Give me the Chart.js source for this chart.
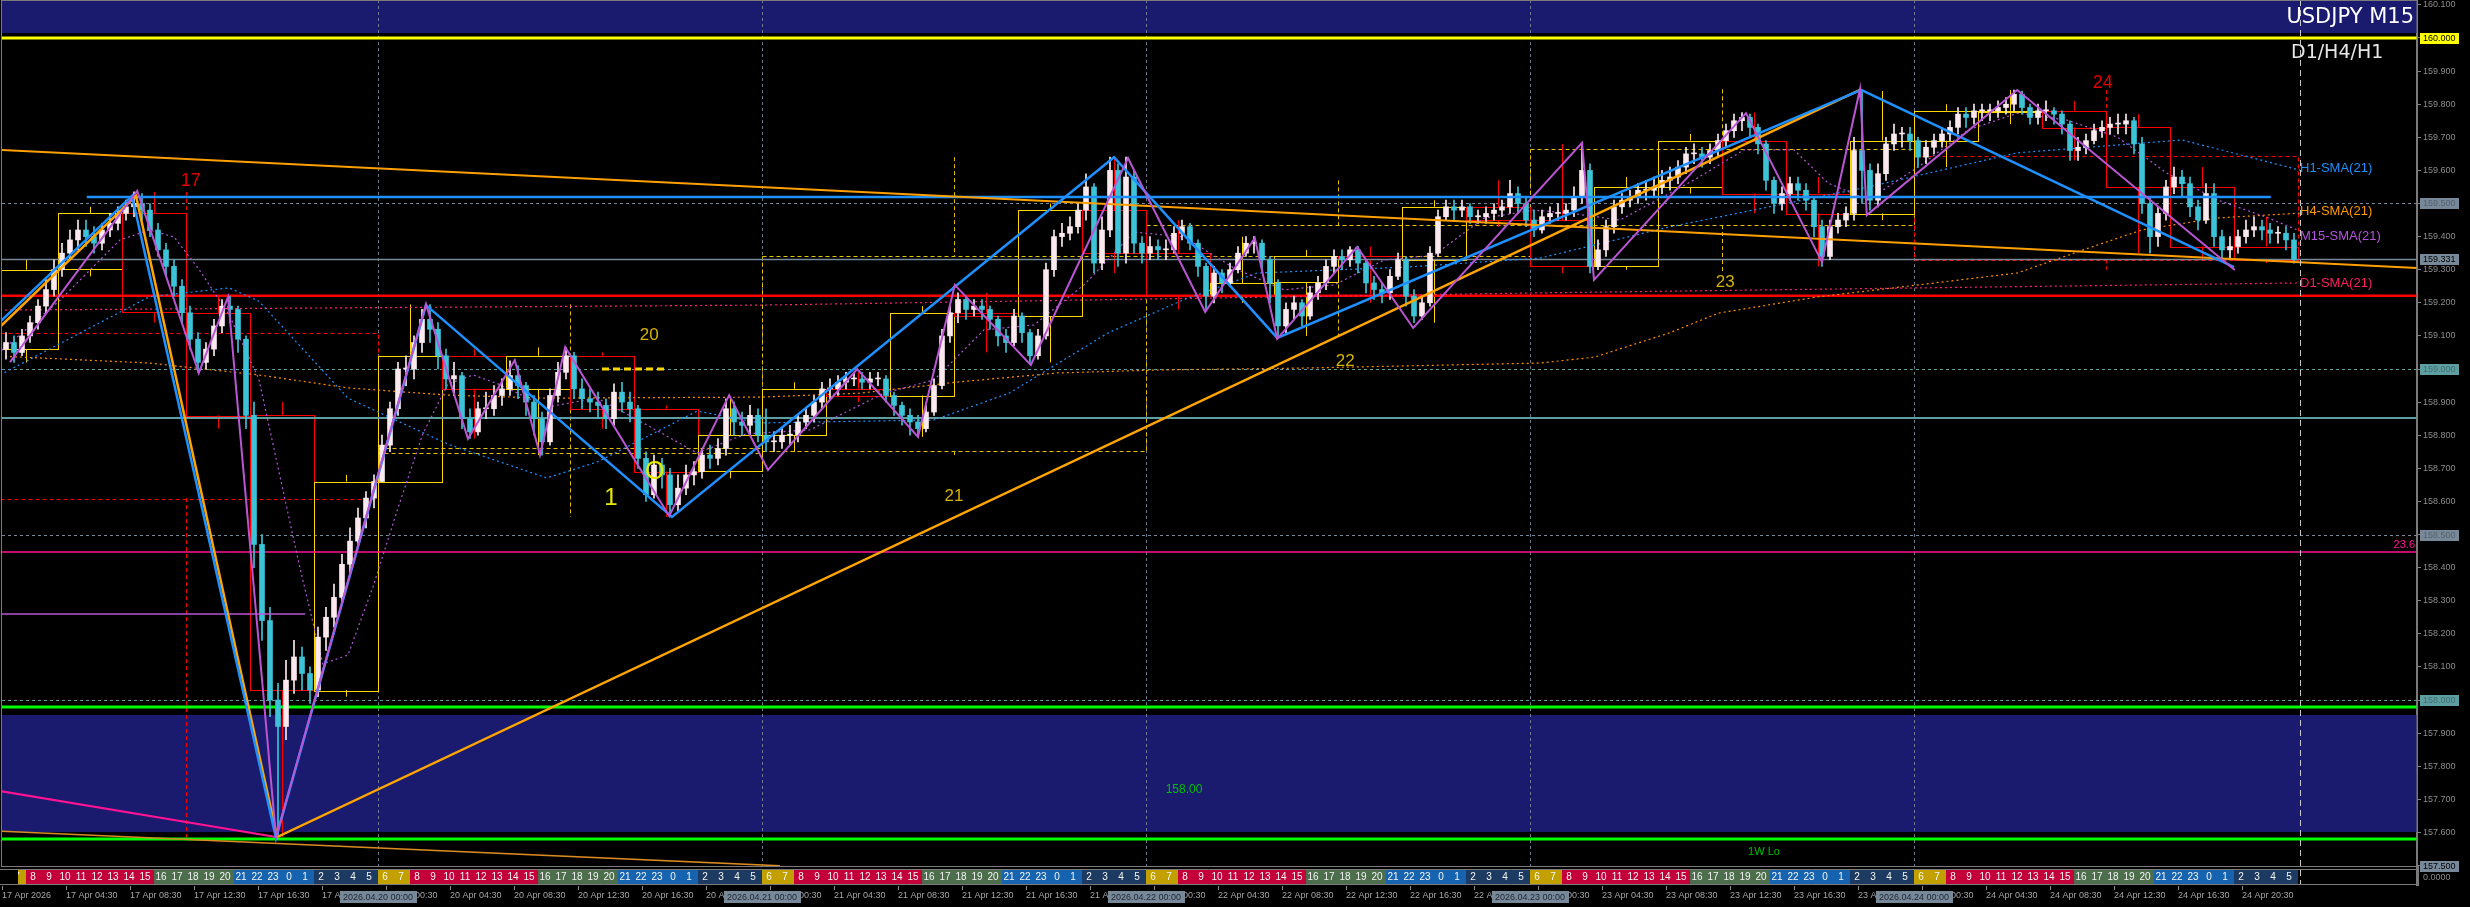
<!DOCTYPE html>
<html>
<head>
<title>USDJPY M15</title>
<script src="https://cdn.jsdelivr.net/npm/chart.js"></script>
<style>
  html, body { margin: 0; padding: 0; background: #000; }
  canvas { display: block; }
</style>
</head>
<body>
<canvas id="priceChart" width="2470" height="907"></canvas>
<script>
// ---- x axis is counted in 30 minute slots, slot 0 = 17 Apr 00:30 (weekend skipped) ----
const dayNames  = ['17 Apr', '20 Apr', '21 Apr', '22 Apr', '23 Apr', '24 Apr'];
const dayStamps = ['2026.04.17', '2026.04.20', '2026.04.21', '2026.04.22', '2026.04.23', '2026.04.24'];
const dayStart  = [-1, 47, 95, 143, 191, 239];
const tickTimes = ['00:30', '04:30', '08:30', '12:30', '16:30', '20:30'];
const priceTicks = [157.5, 157.6, 157.7, 157.8, 157.9, 158.0, 158.1, 158.2, 158.3, 158.4, 158.5, 158.6, 158.7,
                    158.8, 158.9, 159.0, 159.1, 159.2, 159.3, 159.4, 159.5, 159.6, 159.7, 159.8, 159.9, 160.0, 160.1];

// 30 minute bars: [high, low, close], open = previous close
const firstOpen = 159.06;
const bars17 = [
  [159.11,159.03,159.08],[159.10,159.02,159.05],[159.12,159.04,159.10],[159.16,159.08,159.14],[159.21,159.12,159.19],
  [159.27,159.17,159.24],[159.33,159.22,159.30],[159.38,159.28,159.35],[159.42,159.33,159.39],[159.45,159.36,159.42],
  [159.45,159.37,159.40],[159.43,159.35,159.38],[159.44,159.36,159.42],[159.47,159.40,159.44],[159.49,159.42,159.47],
  [159.51,159.45,159.49],[159.535,159.46,159.50],[159.53,159.45,159.48],[159.50,159.40,159.42],[159.44,159.34,159.36],
  [159.38,159.28,159.31],[159.33,159.22,159.25],[159.27,159.14,159.17],[159.19,159.06,159.09],[159.11,158.99,159.02],
  [159.08,159.00,159.06],[159.15,159.04,159.13],[159.21,159.11,159.19],[159.22,159.14,159.18],[159.19,159.05,159.09],
  [159.10,158.82,158.86],[158.90,158.40,158.47],[158.50,158.18,158.24],[158.28,157.95,158.00],[158.05,157.585,157.92],
  [158.12,157.88,158.06],[158.18,158.02,158.13],[158.16,158.03,158.08],[158.10,157.99,158.03],[158.22,158.01,158.19],
  [158.28,158.15,158.25],[158.35,158.22,158.31],[158.44,158.29,158.41],[158.52,158.38,158.48],[158.58,158.46,158.55],
  [158.63,158.52,158.61],[158.68,158.58,158.66]
];
const bars20 = [
  [158.80,158.66,158.77],[158.90,158.75,158.88],[159.02,158.86,159.00],[159.04,158.95,159.00],[159.10,158.97,159.08],
  [159.18,159.05,159.15],[159.195,159.08,159.12],[159.14,159.00,159.04],[159.06,158.94,158.97],[159.02,158.92,158.98],
  [158.99,158.82,158.85],[158.88,158.79,158.81],[158.90,158.80,158.88],[158.93,158.85,158.88],[158.95,158.86,158.92],
  [158.97,158.89,158.94],[159.025,158.92,158.98],[159.01,158.91,158.95],[158.96,158.86,158.90],[158.92,158.80,158.85],
  [158.87,158.74,158.78],[158.94,158.77,158.92],[159.02,158.90,158.99],[159.065,158.97,159.04],[159.05,158.91,158.94],
  [158.97,158.88,158.91],[158.94,158.87,158.90],[158.93,158.85,158.89],[158.91,158.82,158.85],[158.955,158.83,158.93],
  [158.96,158.87,158.90],[158.93,158.84,158.88],[158.89,158.70,158.73],[158.75,158.60,158.62],[158.74,158.61,158.71],
  [158.73,158.64,158.68],[158.70,158.553,158.59],[158.68,158.57,158.64],[158.71,158.62,158.68],[158.72,158.65,158.69],
  [158.76,158.67,158.74],[158.77,158.70,158.73],[158.79,158.71,158.76],[158.91,158.74,158.88],[158.90,158.80,158.84],
  [158.87,158.80,158.83],[158.89,158.80,158.86],[158.88,158.78,158.80]
];
const bars21 = [
  [158.88,158.75,158.78],[158.81,158.75,158.78],[158.82,158.76,158.80],[158.83,158.77,158.80],[158.86,158.78,158.84],
  [158.88,158.82,158.86],[158.92,158.84,158.90],[158.96,158.88,158.94],[158.97,158.91,158.94],[158.98,158.92,158.96],
  [158.99,158.94,158.97],[158.99,158.95,158.97],[158.99,158.94,158.96],[158.99,158.94,158.97],[158.99,158.95,158.97],
  [158.98,158.90,158.92],[158.93,158.86,158.89],[158.90,158.83,158.86],[158.88,158.80,158.84],[158.86,158.795,158.82],
  [158.89,158.81,158.87],[158.97,158.86,158.95],[159.12,158.94,159.10],[159.19,159.08,159.17],[159.23,159.14,159.21],
  [159.22,159.15,159.18],[159.21,159.16,159.19],[159.21,159.15,159.18],[159.19,159.12,159.15],[159.16,159.07,159.10],
  [159.12,159.05,159.08],[159.18,159.07,159.16],[159.17,159.08,159.11],[159.12,159.02,159.04],[159.12,159.03,159.10],
  [159.32,159.09,159.30],[159.42,159.28,159.40],[159.44,159.37,159.41],[159.46,159.39,159.43],[159.50,159.41,159.48],
  [159.59,159.45,159.55],[159.56,159.29,159.32],[159.46,159.30,159.42],[159.64,159.40,159.60],[159.62,159.31,159.35],
  [159.64,159.32,159.58],[159.60,159.35,159.38],[159.40,159.32,159.35]
];
const bars22 = [
  [159.40,159.33,159.37],[159.39,159.33,159.36],[159.39,159.33,159.36],[159.43,159.35,159.41],[159.45,159.39,159.43],
  [159.44,159.36,159.38],[159.39,159.28,159.31],[159.32,159.18,159.22],[159.31,159.20,159.29],[159.30,159.23,159.26],
  [159.32,159.25,159.30],[159.37,159.29,159.35],[159.40,159.34,159.38],[159.40,159.35,159.38],[159.39,159.30,159.33],
  [159.34,159.20,159.26],[159.27,159.10,159.13],[159.20,159.11,159.18],[159.22,159.15,159.20],[159.21,159.13,159.16],
  [159.25,159.15,159.23],[159.28,159.21,159.26],[159.33,159.24,159.31],[159.36,159.29,159.34],[159.36,159.30,159.33],
  [159.37,159.31,159.36],[159.37,159.29,159.32],[159.33,159.23,159.26],[159.28,159.21,159.24],[159.26,159.20,159.23],
  [159.30,159.21,159.28],[159.35,159.27,159.33],[159.34,159.19,159.22],[159.24,159.14,159.16],[159.22,159.15,159.20],
  [159.37,159.19,159.35],[159.48,159.34,159.46],[159.51,159.45,159.49],[159.51,159.45,159.48],[159.51,159.46,159.49],
  [159.50,159.44,159.46],[159.48,159.44,159.46],[159.49,159.44,159.47],[159.50,159.45,159.48],[159.51,159.46,159.49],
  [159.57,159.47,159.53],[159.55,159.47,159.50],[159.52,159.43,159.45]
];
const bars23 = [
  [159.48,159.40,159.42],[159.48,159.41,159.46],[159.49,159.44,159.47],[159.50,159.45,159.47],[159.50,159.45,159.48],
  [159.55,159.46,159.52],[159.68,159.50,159.60],[159.62,159.29,159.31],[159.39,159.30,159.36],[159.45,159.34,159.43],
  [159.51,159.41,159.49],[159.53,159.47,159.51],[159.54,159.49,159.52],[159.56,159.50,159.54],[159.57,159.51,159.54],
  [159.58,159.52,159.55],[159.60,159.53,159.57],[159.61,159.54,159.58],[159.63,159.56,159.61],[159.67,159.59,159.65],
  [159.68,159.62,159.65],[159.67,159.61,159.64],[159.68,159.62,159.66],[159.71,159.64,159.69],[159.74,159.67,159.72],
  [159.77,159.70,159.75],[159.775,159.72,159.76],[159.77,159.70,159.73],[159.74,159.65,159.68],[159.69,159.54,159.57],
  [159.58,159.47,159.50],[159.55,159.48,159.53],[159.58,159.51,159.56],[159.58,159.51,159.54],[159.56,159.48,159.51],
  [159.52,159.40,159.43],[159.45,159.31,159.34],[159.45,159.33,159.43],[159.47,159.41,159.45],[159.49,159.43,159.47],
  [159.70,159.45,159.66],[159.84,159.50,159.60],[159.62,159.48,159.51],[159.62,159.49,159.59],[159.70,159.57,159.68],
  [159.74,159.66,159.71],[159.73,159.67,159.71],[159.73,159.66,159.69]
];
const bars24 = [
  [159.70,159.61,159.64],[159.69,159.62,159.67],[159.71,159.65,159.69],[159.73,159.67,159.71],[159.75,159.69,159.73],
  [159.79,159.71,159.77],[159.79,159.73,159.76],[159.80,159.74,159.78],[159.80,159.75,159.78],[159.80,159.75,159.78],
  [159.81,159.76,159.79],[159.82,159.77,159.80],[159.843,159.78,159.83],[159.84,159.77,159.79],[159.80,159.74,159.76],
  [159.80,159.74,159.78],[159.81,159.75,159.78],[159.79,159.74,159.77],[159.78,159.71,159.74],[159.75,159.63,159.66],
  [159.70,159.63,159.67],[159.71,159.65,159.69],[159.74,159.68,159.72],[159.75,159.70,159.73],[159.76,159.71,159.74],
  [159.77,159.71,159.74],[159.77,159.71,159.75],[159.76,159.65,159.68],[159.70,159.47,159.50],[159.52,159.35,159.40],
  [159.49,159.37,159.47],[159.57,159.45,159.55],[159.61,159.53,159.58],[159.60,159.52,159.56],[159.58,159.46,159.49],
  [159.51,159.42,159.45],[159.56,159.44,159.53],[159.56,159.37,159.40],[159.42,159.33,159.36],[159.40,159.33,159.37],
  [159.42,159.35,159.40],[159.45,159.38,159.42],[159.46,159.40,159.43],[159.45,159.39,159.42],[159.44,159.38,159.41],
  [159.43,159.38,159.41],[159.43,159.36,159.39],[159.41,159.32,159.331]
];
const barsByDay = [bars17, bars20, bars21, bars22, bars23, bars24];

// daily candles (dashed outlines)
const d1Open  = [159.11, 158.745, 158.75, 159.34, 159.435, 159.645];
const d1High  = [159.535, 159.195, 159.64, 159.57, 159.845, 159.843];
const d1Low   = [157.585, 158.553, 158.74, 159.10, 159.29, 159.30];
const d1Close = [158.61, 158.76, 159.34, 159.435, 159.665, 159.331];

// zigzags [slot, price]
const zigBlue = [[-0.25,159.142],[16.25,159.523],[34.25,157.583],[53,159.193],[83.75,158.553],[139,159.640],
                 [159.4,159.094],[232.4,159.843],[279,159.308]];
const zigOrange = [[-0.25,159.127],[16.75,159.523],[34.4,157.586],[232.25,159.843]];
const zigMagenta = [[1,159.021],[16.9,159.538],[24.6,158.988],[28.25,159.218],[34.25,157.586],[53,159.196],
                    [58.25,158.789],[64.1,159.027],[67.25,158.740],[70.4,159.066],[83.4,158.556],[90.9,158.921],
                    [95.75,158.695],[106.9,159.0],[114.5,158.795],[119.1,159.254],[128.6,159.012],[140.75,159.637],
                    [150.4,159.172],[156.6,159.396],[159.4,159.091],[169.4,159.369],[176.4,159.124],[197.5,159.683],
                    [199,159.269],[218,159.773],[227.5,159.323],[232.25,159.846],[233.1,159.465],[251.9,159.843],
                    [279.1,159.299]];

// moving averages [slot, price]
const smaM15 = [[0,159.057],[7.25,159.208],[14.75,159.390],[18.4,159.420],[21.5,159.399],[24.6,159.302],[28.4,159.163],
                [32.1,158.970],[34.6,158.692],[37.1,158.414],[40.1,158.109],[43.25,158.136],[46.4,158.344],[49.5,158.580],
                [52.6,158.804],[55.75,158.955],[58.9,158.982],[62,158.955],[68.1,158.885],[74.4,158.912],[80.6,158.831],
                [86.9,158.746],[93,158.804],[101,158.816],[110.25,158.927],[116.5,158.967],[122.75,159.118],[129,159.133],
                [135.25,159.254],[141.5,159.414],[147.75,159.399],[154,159.305],[160.25,159.239],[166.5,159.254],
                [172.75,159.329],[179,159.344],[185.25,159.456],[191.5,159.480],[196,159.471],[202.25,159.450],
                [211.5,159.571],[217.75,159.662],[224,159.662],[228.25,159.562],[233.25,159.511],[239.5,159.610],
                [245.75,159.722],[251.9,159.773],[258.1,159.752],[264.4,159.701],[270.6,159.592],[276.9,159.511],
                [283,159.459],[287.25,159.417]];
const smaH1 = [[-0.25,158.982],[18.4,159.218],[28.4,159.245],[32.1,159.205],[43.25,158.912],[55.75,158.773],[68.1,158.671],
               [74.4,158.719],[86.9,158.873],[94.75,158.837],[116.5,158.846],[125.9,158.927],[138.25,159.109],[147.6,159.208],
               [156.9,159.290],[175.6,159.308],[192.25,159.335],[208.4,159.429],[233.25,159.550],[251.9,159.653],
               [272.5,159.692],[287.25,159.601]];
const smaH4 = [[-0.25,159.039],[18.4,159.018],[32.1,158.982],[43.25,158.943],[55.75,158.921],[68.1,158.912],[94.75,158.915],
               [107.25,158.927],[119.6,158.961],[131.9,158.988],[144.5,158.997],[163.1,159.003],[192.25,159.018],
               [199.1,159.036],[208.4,159.109],[214.6,159.169],[227,159.218],[239.5,159.254],[251.9,159.290],
               [261.25,159.369],[267.5,159.420],[276.75,159.456],[287.25,159.471]];
const smaD1 = [[-0.25,159.178],[94.75,159.193],[192.25,159.230],[287.25,159.260]];

// trend lines [slot, price]
const trendOrange = [[-0.25,159.662],[301.9,159.305]];
const trendOrangeLow = [[-0.25,157.604],[97.25,157.499]];
const trendPink = [[-0.25,157.725],[34.25,157.586]];
const levelBlue = [[10.6,159.52],[283.6,159.52]];
const levelOrchid = [[-0.25,158.26],[37.9,158.26]];
const markYellow = [[75,159.0],[83,159.0]];

// horizontal levels and zones
const zones = [[160.115, 160.015], [157.955, 157.601]];
const roundLevels = [159.5, 159.0, 158.5, 158.0];
const levels = [160.000, 159.331, 159.221, 158.852, 158.447, 157.979, 157.580];
const axisMarks = [160.000, 159.500, 159.331, 159.000, 158.500, 158.000, 157.500];

// text notes [text, slot, price]
const notes = [['17',23.6,159.568],['20',80.9,159.103],['1',76.1,158.61],['21',119,158.616],['22',167.9,159.024],
               ['23',215.4,159.263],['24',262.6,159.864],['O',81.6,158.689],['158.00',147.75,157.728],['1W Lo',220.25,157.541]];
const smaNames = [['H1-SMA(21)',159.607],['H4-SMA(21)',159.477],['M15-SMA(21)',159.402],['D1-SMA(21)',159.260]];
const lastSlot = 287.25;

// ---- styles ----
const BULL = '#fbe9ee', BEAR = '#3cc3d8';
const levelStyles = [['#ffff00',3],['#778899',1.5],['#ff0000',2.5],['#5f9ea0',2],['#ff1493',1.5],['#00ff00',3],['#00ff00',3]];
const roundStyles = ['#778899', '#5f9ea0', '#778899', '#5f9ea0'];
const axisMarkStyles = [['#ffff00','#000'],['#778899','#56626e'],['#778899','#000'],['#5f9ea0','#3d7072'],
                        ['#778899','#56626e'],['#5f9ea0','#3d7072'],['#778899','#000']];
const noteStyles = [['#e00000',18],['#d4b400',17],['#e8e800',24],['#d4b400',17],['#d4b400',17],['#d4b400',17],
                    ['#e00000',18],['#e8e800',25],['#00c000',12],['#00c000',11]];
const smaColors = ['#1e90ff', '#ff9900', '#b455dc', '#ff1e64'];
const AX_FONT = '9px "Liberation Sans"';

// ---- build candles and 4 hour boxes ----
const candles = [];
let prevClose = firstOpen;
barsByDay.forEach((bars, d) => {
  const first = d === 0 ? 1 : 0;
  bars.forEach(([h, l, c], k) => {
    candles.push({ slot: dayStart[d] + first + k + 0.5, o: prevClose, h, l, c });
    prevClose = c;
  });
});

const h4 = [];
candles.forEach(b => {
  const g = Math.floor((b.slot + 1) / 8);
  let box = h4.find(x => x.g === g);
  if (!box) { box = { g, o: b.o, h: b.h, l: b.l, c: b.c }; h4.push(box); }
  box.h = Math.max(box.h, b.h); box.l = Math.min(box.l, b.l); box.c = b.c;
});

const timeTicks = [];
dayNames.forEach((name, d) => tickTimes.forEach((t, k) => {
  timeTicks.push({ slot: dayStart[d] + 1 + 8 * k, label: d === 0 && k === 0 ? '17 Apr 2026' : name + ' ' + t });
}));

function sessionColor(h) {
  if (h === 6 || h === 7) return '#c2a000';
  if (h >= 8 && h <= 15) return '#c4003a';
  if (h >= 16 && h <= 20) return '#4d6e4d';
  if (h >= 21 || h <= 1) return '#1664b0';
  return '#1d3b62';
}

function seg(ctx, x1, y1, x2, y2) { ctx.beginPath(); ctx.moveTo(x1, y1); ctx.lineTo(x2, y2); ctx.stroke(); }
function pts(arr) { return arr.map(([s, p]) => ({ x: s, y: p })); }

// ---- drawing of objects that sit behind the candles ----
const overlay = {
  id: 'overlay',
  beforeDatasetsDraw(chart) {
    const { ctx, chartArea: a } = chart;
    const X = v => chart.scales.x.getPixelForValue(v);
    const Y = p => chart.scales.y.getPixelForValue(p);
    ctx.save();
    ctx.beginPath();
    ctx.rect(a.left, a.top, a.right - a.left, a.bottom - a.top);
    ctx.clip();

    ctx.fillStyle = '#1a1a6e';
    zones.forEach(([hi, lo]) => ctx.fillRect(a.left, Y(hi), a.right - a.left, Y(lo) - Y(hi)));

    ctx.lineWidth = 1;
    ctx.setLineDash([3, 3]);
    ctx.strokeStyle = '#6c7c8c';
    dayStart.slice(1).forEach(s => { const xx = Math.round(X(s)) + 0.5; seg(ctx, xx, a.top, xx, a.bottom); });
    roundLevels.forEach((p, i) => {
      ctx.strokeStyle = roundStyles[i];
      const yy = Math.round(Y(p)) + 0.5;
      seg(ctx, a.left, yy, a.right, yy);
    });

    // daily candles
    ctx.setLineDash([4, 3]);
    d1Open.forEach((o, d) => {
      const c = d1Close[d];
      ctx.strokeStyle = c >= o ? '#e6c200' : '#ff0000';
      const x0 = X(dayStart[d]), x1 = X(dayStart[d] + 48), xm = X(dayStart[d] + 24);
      const top = Y(Math.max(o, c)), bot = Y(Math.min(o, c));
      ctx.strokeRect(Math.round(x0) + 0.5, Math.round(top) + 0.5, Math.round(x1 - x0), Math.round(bot - top));
      seg(ctx, Math.round(xm) + 0.5, Y(d1High[d]), Math.round(xm) + 0.5, top);
      seg(ctx, Math.round(xm) + 0.5, bot, Math.round(xm) + 0.5, Y(d1Low[d]));
    });

    // 4 hour boxes
    ctx.setLineDash([]);
    h4.forEach(b => {
      ctx.strokeStyle = b.c >= b.o ? '#ffd700' : '#ff0000';
      const x0 = X(b.g * 8 - 1), x1 = X(b.g * 8 + 7), xm = Math.round(X(b.g * 8 + 3)) + 0.5;
      const top = Y(Math.max(b.o, b.c)), bot = Y(Math.min(b.o, b.c));
      ctx.strokeRect(Math.round(x0) + 0.5, Math.round(top) + 0.5, Math.round(x1 - x0), Math.max(1, Math.round(bot - top)));
      seg(ctx, xm, Y(b.h), xm, top);
      seg(ctx, xm, bot, xm, Y(b.l));
    });

    // horizontal levels
    levels.forEach((p, i) => {
      ctx.strokeStyle = levelStyles[i][0];
      ctx.lineWidth = levelStyles[i][1];
      seg(ctx, a.left, Y(p), a.right, Y(p));
    });
    ctx.restore();
  },

  afterDraw(chart) {
    const { ctx, chartArea: a } = chart;
    const X = v => chart.scales.x.getPixelForValue(v);
    const Y = p => chart.scales.y.getPixelForValue(p);
    ctx.save();

    // notes on the chart
    ctx.textBaseline = 'middle';
    notes.forEach(([t, s, p], i) => {
      ctx.fillStyle = noteStyles[i][0];
      ctx.font = noteStyles[i][1] + 'px "Liberation Sans"';
      ctx.textAlign = 'center';
      ctx.fillText(t, X(s), Y(p));
    });
    ctx.font = '13px "Liberation Sans"';
    ctx.textAlign = 'left';
    smaNames.forEach(([t, p], i) => { ctx.fillStyle = smaColors[i]; ctx.fillText(t, X(lastSlot), Y(p)); });
    ctx.fillStyle = '#ff1493';
    ctx.font = '11px "Liberation Sans"';
    ctx.textAlign = 'right';
    ctx.fillText('23.6', a.right - 2, Y(levels[4]) - 7);

    // title
    ctx.fillStyle = '#ffffff';
    ctx.font = '21px "DejaVu Sans"';
    ctx.textAlign = 'right';
    ctx.fillText('USDJPY M15', a.right - 3, 18);
    ctx.fillStyle = '#e6e6e6';
    ctx.font = '19px "DejaVu Sans"';
    ctx.textAlign = 'left';
    ctx.fillText('D1/H4/H1', X(lastSlot) - 9, 53);

    // end of data marker
    ctx.strokeStyle = '#c8c8c8';
    ctx.lineWidth = 1;
    ctx.setLineDash([6, 4]);
    const xe = Math.round(X(lastSlot)) + 0.5;
    seg(ctx, xe, a.top, xe, 885);
    ctx.setLineDash([]);

    // frame and session strip window
    ctx.strokeStyle = '#7a7a7a';
    ctx.strokeRect(1.5, 0.5, a.right - 1.5, a.bottom);
    seg(ctx, 0, 869.5, a.right, 869.5);
    seg(ctx, 0, 884.5, a.right, 884.5);
    ctx.fillStyle = '#7a7a7a';
    ctx.fillRect(a.right - 1, a.bottom, 3, 20);

    ctx.save();
    ctx.beginPath();
    ctx.rect(X(2), 870, X(lastSlot) - X(2), 14);
    ctx.clip();
    ctx.font = '10px "Liberation Sans"';
    ctx.textAlign = 'center';
    dayStart.forEach(ds => {
      for (let h = 0; h < 24; h++) {
        const label = (h + 6) % 24;
        const x0 = X(ds + 2 * h), x1 = X(ds + 2 * h + 2);
        ctx.fillStyle = sessionColor(label);
        ctx.fillRect(x0, 870, x1 - x0, 14);
        ctx.fillStyle = '#f4f4f4';
        ctx.fillText(String(label), x0 + 7, 877.5);
      }
    });
    ctx.restore();

    // time tick marks and date boxes
    ctx.strokeStyle = '#8a8a8a';
    timeTicks.forEach(t => { const xx = Math.round(X(t.slot)) + 0.5; seg(ctx, xx, 886, xx, 890); });
    ctx.font = AX_FONT;
    ctx.textAlign = 'center';
    dayStart.slice(1).forEach((s, i) => {
      const xc = X(s);
      ctx.fillStyle = '#778899';
      ctx.fillRect(xc - 38, 891, 77, 12);
      ctx.fillStyle = '#1c2633';
      ctx.fillText(dayStamps[i + 1] + ' 00:00', xc, 897.5);
    });

    // price marks on the axis
    ctx.textAlign = 'left';
    axisMarks.forEach((p, i) => {
      const yy = Math.round(Y(p));
      ctx.fillStyle = axisMarkStyles[i][0];
      ctx.fillRect(a.right + 3, yy - 5, 39, 11);
      ctx.fillStyle = axisMarkStyles[i][1];
      ctx.fillText(p.toFixed(3), a.right + 6, yy + 0.5);
    });
    ctx.fillStyle = '#8c8c8c';
    ctx.fillText('0.0000', a.right + 6, 878);
    ctx.restore();
  }
};

new Chart(document.getElementById('priceChart'), {
  type: 'bar',
  data: {
    datasets: [
      { type: 'line', data: pts(zigBlue), borderColor: '#1e90ff', borderWidth: 2.5, pointRadius: 0, order: 1 },
      { type: 'line', data: pts(zigOrange), borderColor: '#ffa500', borderWidth: 2.5, pointRadius: 0, order: 1 },
      { type: 'line', data: pts(zigMagenta), borderColor: '#ba55d3', borderWidth: 2, pointRadius: 0, order: 0 },
      { type: 'line', data: pts(trendOrange), borderColor: '#ffa000', borderWidth: 2, pointRadius: 0, order: 2 },
      { type: 'line', data: pts(trendOrangeLow), borderColor: '#d98a20', borderWidth: 1.5, pointRadius: 0, order: 2 },
      { type: 'line', data: pts(trendPink), borderColor: '#ff1493', borderWidth: 2, pointRadius: 0, order: 2 },
      { type: 'line', data: pts(levelBlue), borderColor: '#1e90ff', borderWidth: 2.5, pointRadius: 0, order: 2 },
      { type: 'line', data: pts(levelOrchid), borderColor: '#ba55d3', borderWidth: 1.5, pointRadius: 0, order: 2 },
      { type: 'line', data: pts(markYellow), borderColor: '#ffd700', borderWidth: 3, borderDash: [7, 4], pointRadius: 0, order: 2 },
      { type: 'bar', data: candles.map(c => ({ x: c.slot, y: [c.l, c.h] })), grouped: false, barThickness: 1,
        backgroundColor: candles.map(c => c.c >= c.o ? BULL : BEAR), order: 5 },
      { type: 'bar', data: candles.map(c => ({ x: c.slot, y: [c.o, c.c] })), grouped: false, barThickness: 5, minBarLength: 1,
        backgroundColor: candles.map(c => c.c >= c.o ? BULL : BEAR), order: 4 },
      { type: 'line', data: pts(smaM15), borderColor: '#b455dc', borderWidth: 1.2, borderDash: [2, 3], pointRadius: 0, order: 6 },
      { type: 'line', data: pts(smaH1), borderColor: '#1e90ff', borderWidth: 1.2, borderDash: [2, 3], pointRadius: 0, order: 6 },
      { type: 'line', data: pts(smaH4), borderColor: '#ff8c00', borderWidth: 1.2, borderDash: [2, 3], pointRadius: 0, order: 6 },
      { type: 'line', data: pts(smaD1), borderColor: '#ff1e78', borderWidth: 1.2, borderDash: [2, 3], pointRadius: 0, order: 6 }
    ]
  },
  options: {
    responsive: false,
    animation: false,
    events: [],
    layout: { padding: { left: 2, right: 0, top: 0, bottom: 0 } },
    plugins: { legend: { display: false }, tooltip: { enabled: false } },
    scales: {
      x: {
        type: 'linear', min: 0, max: 301.875, offset: false,
        afterBuildTicks: s => { s.ticks = timeTicks.map(t => ({ value: t.slot })); },
        afterFit: s => { s.height = 41; s.paddingLeft = 0; s.paddingRight = 0; },
        ticks: {
          autoSkip: false, maxRotation: 0, align: 'start', padding: 24, color: '#a6a6a6',
          font: { family: 'Liberation Sans', size: 9 },
          callback: (v, i) => timeTicks[i].label
        },
        grid: { drawOnChartArea: false, drawTicks: false },
        border: { display: false }
      },
      y: {
        position: 'right', min: 157.4985, max: 160.1148,
        afterBuildTicks: s => { s.ticks = priceTicks.map(v => ({ value: v })); },
        afterFit: s => { s.width = 53; s.paddingTop = 0; s.paddingBottom = 0; },
        ticks: { padding: 2, color: '#8c8c8c', font: { family: 'Liberation Sans', size: 9 }, callback: v => v.toFixed(3) },
        grid: { drawOnChartArea: false, tickLength: 4, color: '#808080' },
        border: { color: '#7a7a7a', width: 2 }
      }
    }
  },
  plugins: [overlay]
});
</script>
</body>
</html>
